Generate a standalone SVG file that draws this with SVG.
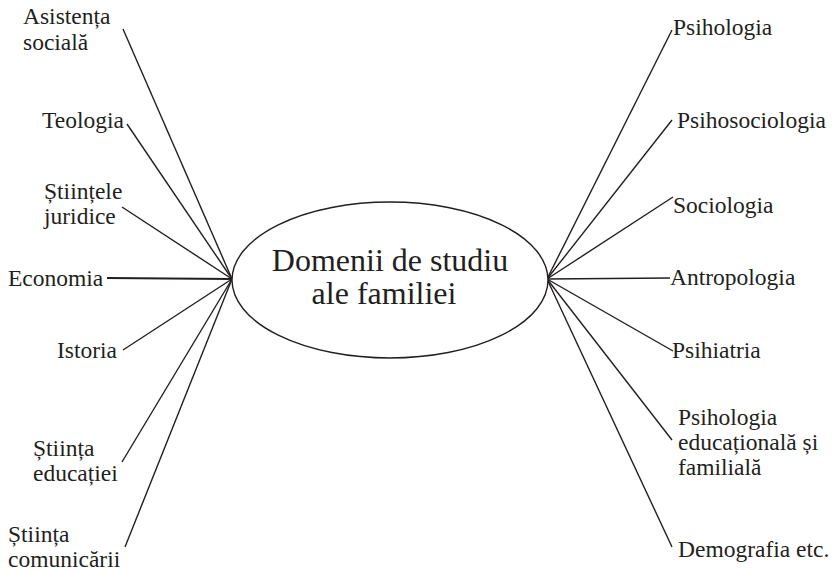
<svg xmlns="http://www.w3.org/2000/svg" width="835" height="573" viewBox="0 0 835 573">
<style>
.lbl{font-size:23.5px}
.main{font-size:32px}
.c line{stroke:#231f20;stroke-width:1.4;fill:none}
</style>
<rect width="835" height="573" fill="#fff"/>
<g id="connectors" class="c">
<line x1="123" y1="29" x2="232" y2="279"/>
<line x1="127" y1="124" x2="232" y2="279"/>
<line x1="122" y1="207" x2="232" y2="279"/>
<line x1="107" y1="278" x2="232" y2="279" style="stroke-width:2.2"/>
<line x1="123" y1="350" x2="232" y2="279"/>
<line x1="122" y1="462" x2="232" y2="279"/>
<line x1="125" y1="547" x2="232" y2="279"/>
<line x1="672" y1="30" x2="547" y2="279"/>
<line x1="672" y1="120" x2="547" y2="279"/>
<line x1="673" y1="197" x2="547" y2="279"/>
<line x1="670" y1="278" x2="547" y2="279"/>
<line x1="673" y1="351" x2="547" y2="279"/>
<line x1="672" y1="440" x2="547" y2="279"/>
<line x1="672" y1="547" x2="547" y2="279"/>
</g>
<g font-family="'Liberation Serif', 'DejaVu Serif', serif" fill="#231f20">
<g id="center">
<ellipse cx="390" cy="280" rx="158" ry="78" fill="#fff" stroke="#231f20" stroke-width="1.4"/>
<text class="main" x="390" y="271" text-anchor="middle">Domenii de studiu</text>
<text class="main" x="384" y="304" text-anchor="middle">ale familiei</text>
</g>
<g id="asistenta"><text class="lbl" x="23" y="24">Asistența</text><text class="lbl" x="23" y="50">socială</text></g>
<g id="teologia"><text class="lbl" x="42" y="128">Teologia</text></g>
<g id="juridice"><text class="lbl" x="44" y="199">Științele</text><text class="lbl" x="44" y="224">juridice</text></g>
<g id="economia"><text class="lbl" x="8" y="286">Economia</text></g>
<g id="istoria"><text class="lbl" x="57" y="358">Istoria</text></g>
<g id="educatiei"><text class="lbl" x="33" y="456">Știința</text><text class="lbl" x="33" y="481">educației</text></g>
<g id="comunicarii"><text class="lbl" x="8" y="542">Știința</text><text class="lbl" x="8" y="567">comunicării</text></g>
<g id="psihologia"><text class="lbl" x="673" y="35">Psihologia</text></g>
<g id="psihosociologia"><text class="lbl" x="677" y="128">Psihosociologia</text></g>
<g id="sociologia"><text class="lbl" x="673" y="213">Sociologia</text></g>
<g id="antropologia"><text class="lbl" x="670" y="285">Antropologia</text></g>
<g id="psihiatria"><text class="lbl" x="672" y="358">Psihiatria</text></g>
<g id="psiheduc"><text class="lbl" x="678" y="425">Psihologia</text><text class="lbl" x="678" y="450">educațională și</text><text class="lbl" x="678" y="475">familială</text></g>
<g id="demografia"><text class="lbl" x="678" y="557">Demografia etc.</text></g>
</g>
</svg>
